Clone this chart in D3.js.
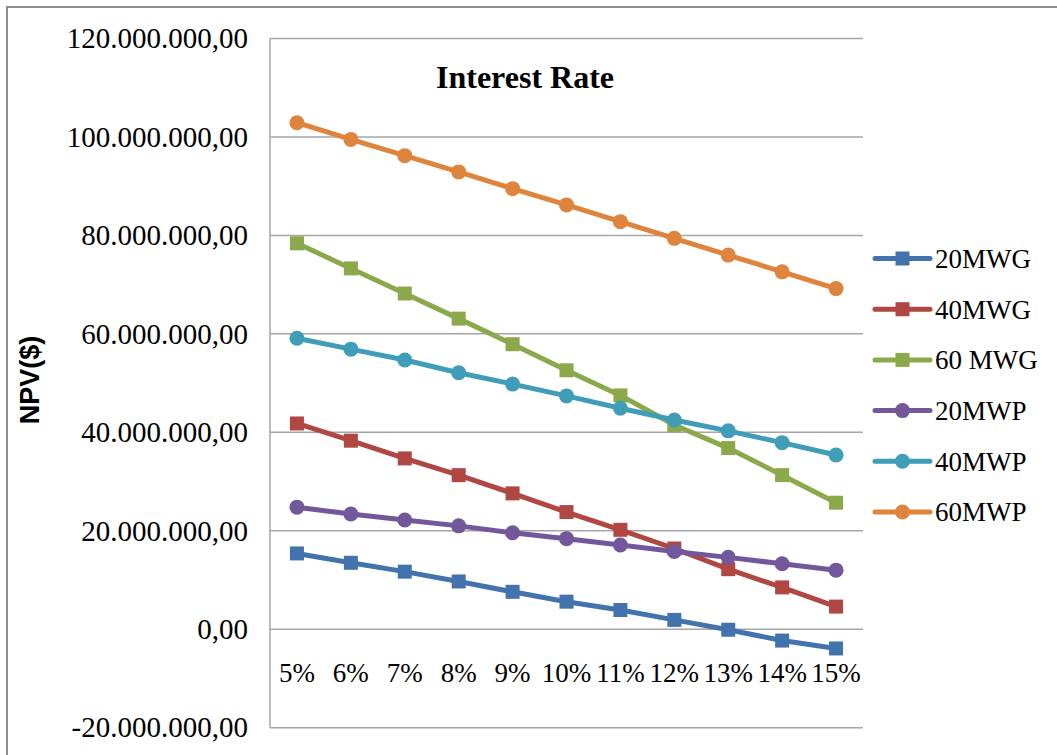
<!DOCTYPE html>
<html>
<head>
<meta charset="utf-8">
<script src="https://cdn.jsdelivr.net/npm/d3@7"></script>
<style>
  html, body { margin: 0; padding: 0; background: #fff; }
  svg { display: block; }
</style>
</head>
<body>
<svg id="chart" width="1057" height="755"></svg>
<script>
// Interest rate scenarios (x categories)
const rates = ["5%", "6%", "7%", "8%", "9%", "10%", "11%", "12%", "13%", "14%", "15%"];

// NPV per plant configuration, in dollars
const npv20MWG = [15.4e6, 13.5e6, 11.7e6, 9.7e6, 7.6e6, 5.6e6, 3.9e6, 1.9e6, -0.1e6, -2.3e6, -3.9e6];
const npv40MWG = [41.8e6, 38.3e6, 34.7e6, 31.3e6, 27.6e6, 23.8e6, 20.2e6, 16.4e6, 12.2e6, 8.5e6, 4.6e6];
const npv60MWG = [78.4e6, 73.3e6, 68.2e6, 63.1e6, 57.9e6, 52.6e6, 47.5e6, 41.5e6, 36.8e6, 31.3e6, 25.7e6];
const npv20MWP = [24.8e6, 23.4e6, 22.2e6, 21.0e6, 19.6e6, 18.4e6, 17.1e6, 15.8e6, 14.6e6, 13.3e6, 12.0e6];
const npv40MWP = [59.1e6, 56.9e6, 54.7e6, 52.1e6, 49.8e6, 47.4e6, 44.9e6, 42.5e6, 40.3e6, 37.9e6, 35.4e6];
const npv60MWP = [102.9e6, 99.5e6, 96.2e6, 92.9e6, 89.5e6, 86.2e6, 82.8e6, 79.4e6, 76.0e6, 72.6e6, 69.2e6];

// Y axis tick values
const yTicks = [-20e6, 0, 20e6, 40e6, 60e6, 80e6, 100e6, 120e6];

const seriesNames = ["20MWG", "40MWG", "60 MWG", "20MWP", "40MWP", "60MWP"];
const seriesColors = ["#4273ad", "#b04742", "#8ba84a", "#72589a", "#3f9db8", "#df843c"];
const seriesMarkers = ["square", "square", "square", "circle", "circle", "circle"];
const seriesValues = [npv20MWG, npv40MWG, npv60MWG, npv20MWP, npv40MWP, npv60MWP];

const series = seriesNames.map((name, i) => ({
  name, color: seriesColors[i], marker: seriesMarkers[i], values: seriesValues[i]
}));

const svg = d3.select("#chart");

// Chart frame
svg.append("rect")
  .attr("x", 7).attr("y", 7)
  .attr("width", 1100).attr("height", 800)
  .attr("fill", "#fff")
  .attr("stroke", "#8c8c8c")
  .attr("stroke-width", 2);

const plot = { left: 270, right: 863, top: 38.5, bottom: 727.7 };

const x = d3.scaleBand().domain(rates).range([plot.left, plot.right]);
const y = d3.scaleLinear().domain([-20e6, 120e6]).range([plot.bottom, plot.top]);

// Number format with dots for thousands, comma for decimals, plain hyphen for negatives
const fmt = d3.formatLocale({
  decimal: ",", thousands: ".", grouping: [3], currency: ["", ""], minus: "-"
}).format(",.2f");

// Horizontal gridlines
svg.append("g")
  .selectAll("line")
  .data(yTicks)
  .join("line")
  .attr("x1", plot.left).attr("x2", plot.right)
  .attr("y1", d => y(d)).attr("y2", d => y(d))
  .attr("stroke", "#a6a6a6")
  .attr("stroke-width", 1.5);

// Vertical axis line
svg.append("line")
  .attr("x1", plot.left).attr("x2", plot.left)
  .attr("y1", plot.top).attr("y2", plot.bottom)
  .attr("stroke", "#a6a6a6")
  .attr("stroke-width", 1.5);

// Y axis labels
const yAxis = d3.axisLeft(y).tickValues(yTicks).tickFormat(fmt).tickSize(0).tickPadding(22);
const gy = svg.append("g").attr("transform", `translate(${plot.left},0)`).call(yAxis);
gy.select(".domain").remove();
gy.selectAll("text")
  .attr("font-family", "'Liberation Serif', 'Times New Roman', serif")
  .attr("font-size", 29)
  .attr("fill", "#000");

// X axis labels (placed below the zero line)
const xAxis = d3.axisBottom(x).tickSize(0).tickPadding(0);
const gx = svg.append("g").attr("transform", `translate(0,${y(0) + 33})`).call(xAxis);
gx.select(".domain").remove();
gx.selectAll("text")
  .attr("dy", "0.35em")
  .attr("y", 10)
  .attr("font-family", "'Liberation Serif', 'Times New Roman', serif")
  .attr("font-size", 27)
  .attr("fill", "#000");

// Y axis title
svg.append("text")
  .attr("transform", "translate(39,380) rotate(-90)")
  .attr("text-anchor", "middle")
  .attr("font-family", "'Liberation Sans', Arial, sans-serif")
  .attr("font-weight", "bold")
  .attr("font-size", 27)
  .text("NPV($)");

// Chart title
svg.append("text")
  .attr("x", 525).attr("y", 88)
  .attr("text-anchor", "middle")
  .attr("font-family", "'Liberation Serif', 'Times New Roman', serif")
  .attr("font-weight", "bold")
  .attr("font-size", 32)
  .text("Interest Rate");

const cx = d => x(d) + x.bandwidth() / 2;
const line = d3.line().x((d, i) => cx(rates[i])).y(d => y(d));

function drawMarker(g, type, color, px, py) {
  if (type === "square") {
    g.append("rect")
      .attr("x", px - 7).attr("y", py - 7)
      .attr("width", 14).attr("height", 14)
      .attr("fill", color);
  } else {
    g.append("circle")
      .attr("cx", px).attr("cy", py).attr("r", 7.5)
      .attr("fill", color);
  }
}

// Series lines and markers
series.forEach(s => {
  const g = svg.append("g");
  g.append("path")
    .attr("d", line(s.values))
    .attr("fill", "none")
    .attr("stroke", s.color)
    .attr("stroke-width", 5)
    .attr("stroke-linejoin", "round");
  s.values.forEach((v, i) => drawMarker(g, s.marker, s.color, cx(rates[i]), y(v)));
});

// Legend
const legend = svg.append("g");
series.forEach((s, i) => {
  const ly = 258.5 + i * 50.7;
  const g = legend.append("g");
  g.append("line")
    .attr("x1", 875).attr("x2", 930)
    .attr("y1", ly).attr("y2", ly)
    .attr("stroke", s.color)
    .attr("stroke-width", 5)
    .attr("stroke-linecap", "round");
  drawMarker(g, s.marker, s.color, 902.5, ly);
  g.append("text")
    .attr("x", 935).attr("y", ly)
    .attr("dy", "0.35em")
    .attr("font-family", "'Liberation Serif', 'Times New Roman', serif")
    .attr("font-size", 27)
    .text(s.name);
});
</script>
</body>
</html>
